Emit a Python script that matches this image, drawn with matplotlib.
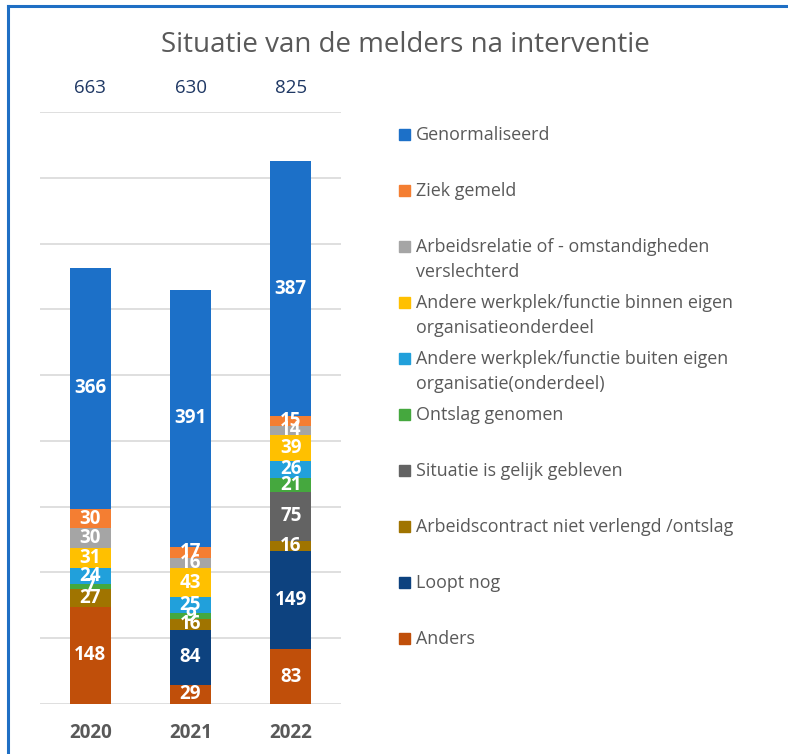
import matplotlib
matplotlib.use("Agg")
import matplotlib.pyplot as plt
from matplotlib.patches import Rectangle
from matplotlib.lines import Line2D
import numpy as np

# jaren en categorieen (van onder naar boven gestapeld)
years = ['2020', '2021', '2022']
categories = [
    'Anders',
    'Loopt nog',
    'Arbeidscontract niet verlengd /ontslag',
    'Situatie is gelijk gebleven',
    'Ontslag genomen',
    'Andere werkplek/functie buiten eigen\norganisatie(onderdeel)',
    'Andere werkplek/functie binnen eigen\norganisatieonderdeel',
    'Arbeidsrelatie of - omstandigheden\nverslechterd',
    'Ziek gemeld',
    'Genormaliseerd',
]
anders = [148, 29, 83]
loopt_nog = [0, 84, 149]
arbeidscontract = [27, 16, 16]
gelijk = [0, 0, 75]
ontslag = [7, 9, 21]
buiten = [24, 25, 26]
binnen = [31, 43, 39]
arbeidsrelatie = [30, 16, 14]
ziek = [30, 17, 15]
genormaliseerd = [366, 391, 387]

colors = ['#C04F0A', '#0D427F', '#A07400', '#636363', '#45A83E',
          '#21A0DB', '#FFC000', '#A5A5A5', '#F47E32', '#1C70C8']


def main():
    fig = plt.figure(figsize=(7.88, 7.54), dpi=100)
    plt.rcParams['font.family'] = ['Open Sans', 'DejaVu Sans']

    series = [anders, loopt_nog, arbeidscontract, gelijk, ontslag,
              buiten, binnen, arbeidsrelatie, ziek, genormaliseerd]

    ax = fig.add_axes([40 / 788, 50 / 754, 301 / 788, 592 / 754])
    x = np.arange(len(years))
    bottom = np.zeros(len(years))
    for vals, c in zip(series, colors):
        vals = np.array(vals, dtype=float)
        ax.bar(x, vals, 0.41, bottom=bottom, color=c, zorder=3)
        for i, v in enumerate(vals):
            if v > 0:
                ax.text(x[i], bottom[i] + v / 2, '%d' % v, ha='center', va='center',
                        color='white', fontsize=13.5, fontweight='bold', zorder=4)
        bottom += vals

    # totalen boven de staven
    for i, t in enumerate(bottom):
        ax.text(x[i], 936, '%d' % t, ha='center', va='center',
                color='#1F3864', fontsize=13.5, clip_on=False)

    ax.set_xlim(-0.5, 2.5)
    ax.set_ylim(0, 900)
    ax.set_yticks(np.arange(0, 901, 100))
    ax.set_yticklabels([])
    ax.tick_params(axis='both', length=0)
    ax.set_xticks(x)
    ax.set_xticklabels(years, fontsize=13.5, fontweight='bold', color='#595959')
    ax.tick_params(axis='x', pad=14)
    ax.grid(axis='y', color='#D9D9D9', linewidth=1.2, zorder=0)
    for s in ax.spines.values():
        s.set_visible(False)

    fig.text(405 / 788, 1 - 45 / 754, 'Situatie van de melders na interventie',
             ha='center', va='center', fontsize=20, color='#595959')

    # legenda (boven naar onder)
    ys = [135, 191, 247, 303, 359, 415, 471, 527, 583, 639]
    for k, (lab, c) in enumerate(zip(categories[::-1], colors[::-1])):
        yy = ys[k]
        fig.patches.append(Rectangle((399 / 788, 1 - (yy + 5) / 754), 11 / 788, 11 / 754,
                                     transform=fig.transFigure, color=c))
        lines = lab.split('\n')
        for j, ln in enumerate(lines):
            fig.text(416 / 788, 1 - (yy + 25 * j) / 754, ln, ha='left', va='center',
                     fontsize=12.9, color='#595959')

    # blauwe rand
    fig.lines.append(Line2D([8 / 788, 1], [1 - 6 / 754, 1 - 6 / 754],
                            transform=fig.transFigure, color='#1F6FC4', linewidth=2.2))
    fig.lines.append(Line2D([8 / 788, 8 / 788], [0, 1 - 6 / 754],
                            transform=fig.transFigure, color='#1F6FC4', linewidth=2.2))

    fig.savefig('out.png', dpi=100)


if __name__ == "__main__":
    main()
